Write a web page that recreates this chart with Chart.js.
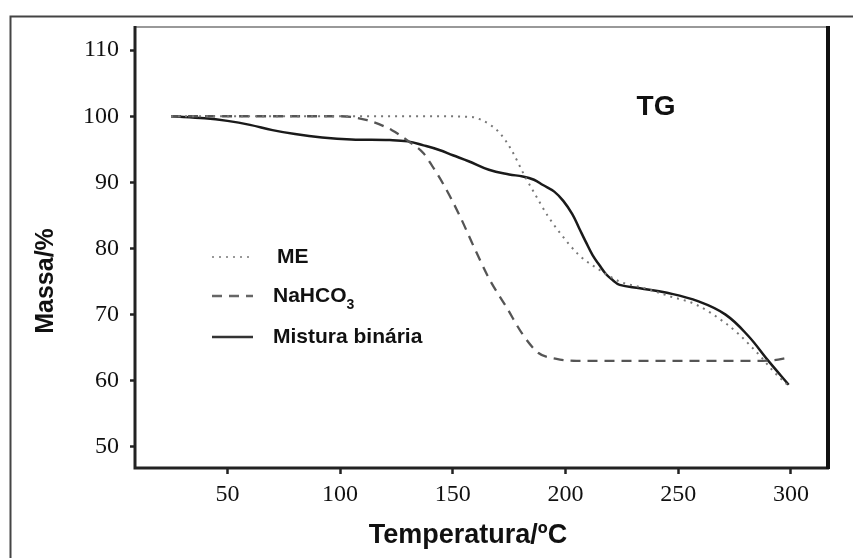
<!DOCTYPE html>
<html>
<head>
<meta charset="utf-8">
<script src="https://cdn.jsdelivr.net/npm/chart.js@4"></script>
<style>
  html, body { margin: 0; padding: 0; background: #fff; }
  #wrap { width: 853px; height: 558px; position: relative; }
</style>
</head>
<body>
<div id="wrap"><canvas id="tgChart"></canvas></div>
<script>
// values
const xTicks = [50, 100, 150, 200, 250, 300];
const yTicks = [50, 60, 70, 80, 90, 100, 110];

const meTemp = [25, 50, 100, 140, 158, 163, 167, 171, 176, 182, 186, 192, 197, 206, 214, 224, 235, 246, 258, 271, 277, 282, 287, 292, 299];
const meMass = [100, 100, 100, 100, 99.9, 99.4, 98.6, 97.4, 94.9, 90.9, 88.5, 85, 82.6, 79, 77, 75, 74, 72.8, 71.5, 68.7, 67, 65.3, 63.5, 61.5, 59.2];

const nahco3Temp = [25, 60, 100, 112, 123, 130, 137, 141, 146, 153, 159, 166, 174, 181, 188, 196, 205, 220, 250, 280, 292, 299];
const nahco3Mass = [100, 100, 100, 99.4, 97.9, 96.3, 94.4, 92.4, 89.6, 85, 80.5, 75.5, 71, 67, 64.2, 63.3, 63.0, 63.0, 63.0, 63.0, 63.1, 63.5];

const mixTemp = [25, 40, 50, 60, 70, 80, 92, 105, 122, 130, 137, 144, 150, 157, 166, 175, 181, 186, 190, 195, 199, 203, 206, 209, 212, 215, 218, 221, 224, 233, 245, 259, 271, 281, 290, 299];
const mixMass = [100, 99.7, 99.3, 98.7, 97.9, 97.3, 96.8, 96.5, 96.4, 96.2, 95.6, 94.9, 94.1, 93.2, 91.9, 91.2, 90.9, 90.4, 89.6, 88.6, 87.2, 85.2, 83.1, 81.0, 79, 77.5, 76.1, 75.2, 74.5, 74.0, 73.3, 72.0, 70.0, 66.8, 63.0, 59.4];

const toPoints = (xs, ys) => xs.map((x, i) => ({ x: x, y: ys[i] }));

// frame, axis titles, "TG" and the legend drawn by hand
const decorPlugin = {
    id: 'decor',
    afterDraw(chart) {
        const c = chart.ctx;
        const a = chart.chartArea;
        c.save();

        // outer box (runs off the right and bottom of the picture)
        c.strokeStyle = '#444';
        c.lineWidth = 2;
        c.beginPath();
        c.moveTo(10.5, 560);
        c.lineTo(10.5, 16.5);
        c.lineTo(860, 16.5);
        c.stroke();

        // plot frame
        c.strokeStyle = '#777';
        c.lineWidth = 1.5;
        c.beginPath();
        c.moveTo(a.left, a.top);
        c.lineTo(a.right, a.top);
        c.stroke();
        c.strokeStyle = '#222';
        c.lineWidth = 3;
        c.beginPath();
        c.moveTo(a.left, a.top - 1);
        c.lineTo(a.left, a.bottom);
        c.lineTo(a.right + 2, a.bottom);
        c.stroke();
        c.lineWidth = 4;
        c.strokeStyle = '#111';
        c.beginPath();
        c.moveTo(a.right + 1, a.top - 1);
        c.lineTo(a.right + 1, a.bottom + 1);
        c.stroke();

        // axis titles
        c.fillStyle = '#111';
        c.font = 'bold 27px "Liberation Sans", Arial, sans-serif';
        c.textAlign = 'center';
        c.textBaseline = 'alphabetic';
        c.fillText('Temperatura/ºC', 468, 543);
        c.save();
        c.translate(53, 281);
        c.rotate(-Math.PI / 2);
        c.font = 'bold 25px "Liberation Sans", Arial, sans-serif';
        c.fillText('Massa/%', 0, 0);
        c.restore();

        c.font = 'bold 28px "Liberation Sans", Arial, sans-serif';
        c.fillText('TG', 656, 115);

        // legend
        const rows = [257, 296, 337];
        c.textAlign = 'left';
        c.textBaseline = 'middle';
        chart.data.datasets.forEach((ds, i) => {
            const y = rows[i];
            c.strokeStyle = ds.legendColor;
            c.lineWidth = ds.borderWidth;
            c.setLineDash(ds.borderDash || []);
            c.beginPath();
            c.moveTo(212, y);
            c.lineTo(253, y);
            c.stroke();
            c.setLineDash([]);
            c.fillStyle = '#111';
            c.font = 'bold 21px "Liberation Sans", Arial, sans-serif';
            const m = ds.label.match(/^(.*?)(\d+)$/);
            if (m) {
                c.fillText(m[1], 273, y);
                const w = c.measureText(m[1]).width;
                c.font = 'bold 14px "Liberation Sans", Arial, sans-serif';
                c.fillText(m[2], 273 + w, y + 9);
            } else {
                c.fillText(ds.label, i === 0 ? 277 : 273, y);
            }
        });
        c.restore();
    }
};

const ctx = document.getElementById('tgChart').getContext('2d');
const tgChart = new Chart(ctx, {
    type: 'line',
    data: {
        datasets: [{
            label: 'ME',
            data: toPoints(meTemp, meMass),
            borderColor: '#777',
            legendColor: '#999',
            borderWidth: 2,
            borderDash: [2, 5],
            pointRadius: 0,
            fill: false,
            cubicInterpolationMode: 'monotone'
        }, {
            label: 'NaHCO3',
            data: toPoints(nahco3Temp, nahco3Mass),
            borderColor: '#555',
            legendColor: '#666',
            borderWidth: 2.3,
            borderDash: [10, 7],
            pointRadius: 0,
            fill: false,
            cubicInterpolationMode: 'monotone'
        }, {
            label: 'Mistura binária',
            data: toPoints(mixTemp, mixMass),
            borderColor: '#1a1a1a',
            legendColor: '#333',
            borderWidth: 2.5,
            pointRadius: 0,
            fill: false,
            tension: 0.4
        }]
    },
    options: {
        responsive: true,
        maintainAspectRatio: false,
        animation: false,
        layout: { padding: { left: 0, top: 27, right: 26, bottom: 0 } },
        plugins: {
            legend: { display: false },
            tooltip: { enabled: false }
        },
        scales: {
            x: {
                type: 'linear',
                min: 9,
                max: 316,
                afterFit: (s) => { s.height = 90; },
                afterBuildTicks: (s) => { s.ticks = xTicks.map(v => ({ value: v })); },
                border: { display: false },
                grid: { drawOnChartArea: false, tickLength: 6, tickWidth: 2.5, tickColor: '#222' },
                ticks: {
                    padding: 6,
                    color: '#111',
                    font: { family: '"Liberation Serif", "Times New Roman", serif', size: 24 }
                }
            },
            y: {
                min: 46.8,
                max: 113.5,
                afterFit: (s) => { s.width = 135; },
                afterBuildTicks: (s) => { s.ticks = yTicks.map(v => ({ value: v })); },
                border: { display: false },
                grid: { drawOnChartArea: false, tickLength: 5, tickWidth: 2.5, tickColor: '#222' },
                ticks: {
                    padding: 11,
                    color: '#111',
                    font: { family: '"Liberation Serif", "Times New Roman", serif', size: 24 }
                }
            }
        }
    },
    plugins: [decorPlugin]
});
</script>
</body>
</html>
